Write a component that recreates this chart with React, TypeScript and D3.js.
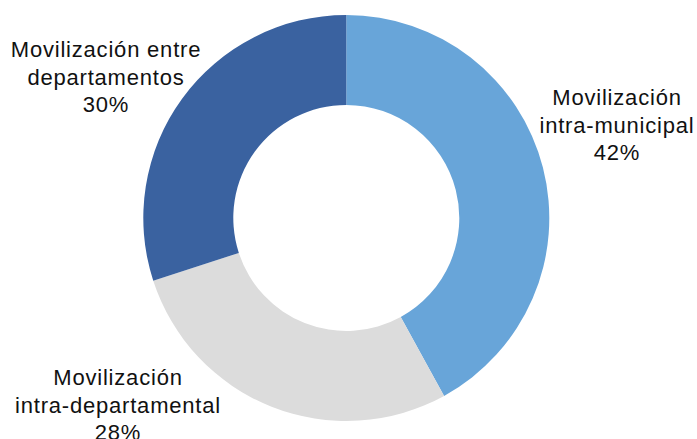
import React from "react";
import * as d3 from "d3";

const categories = [
  "Movilización intra-municipal",
  "Movilización intra-departamental",
  "Movilización entre departamentos",
];
const values = [42, 28, 30];
const labelLines = [
  ["Movilización", "intra-municipal", "42%"],
  ["Movilización", "intra-departamental", "28%"],
  ["Movilización entre", "departamentos", "30%"],
];
const colors = ["#68a5d9", "#dcdcdc", "#3a62a0"];

const W = 697;
const H = 439;
const CX = 346.3;
const CY = 218;
const R_OUT = 203;
const R_IN = 113;
const labelAnchors: [number, number][] = [
  [617, 105],
  [118, 385],
  [106, 57],
];
const LINE_H = 27.5;

export default function App() {
  const pie = d3
    .pie<number>()
    .sort(null)
    .value((d) => d);
  const arcs = pie(values);
  const arc = d3.arc<d3.PieArcDatum<number>>().innerRadius(R_IN).outerRadius(R_OUT);

  return (
    <svg
      width={W}
      height={H}
      style={{ position: "absolute", left: 0, top: 0, background: "#fff" }}
    >
      <g transform={`translate(${CX},${CY})`}>
        {arcs.map((a, i) => (
          <path key={categories[i]} d={arc(a) || ""} fill={colors[i]} />
        ))}
      </g>
      {labelLines.map((lines, i) => (
        <text
          key={categories[i]}
          textAnchor="middle"
          fontFamily="'Liberation Sans', Arial, sans-serif"
          fontSize={22}
          letterSpacing={0.8}
          fill="#111"
        >
          {lines.map((ln, j) => (
            <tspan key={j} x={labelAnchors[i][0]} y={labelAnchors[i][1] + j * LINE_H}>
              {ln}
            </tspan>
          ))}
        </text>
      ))}
    </svg>
  );
}
